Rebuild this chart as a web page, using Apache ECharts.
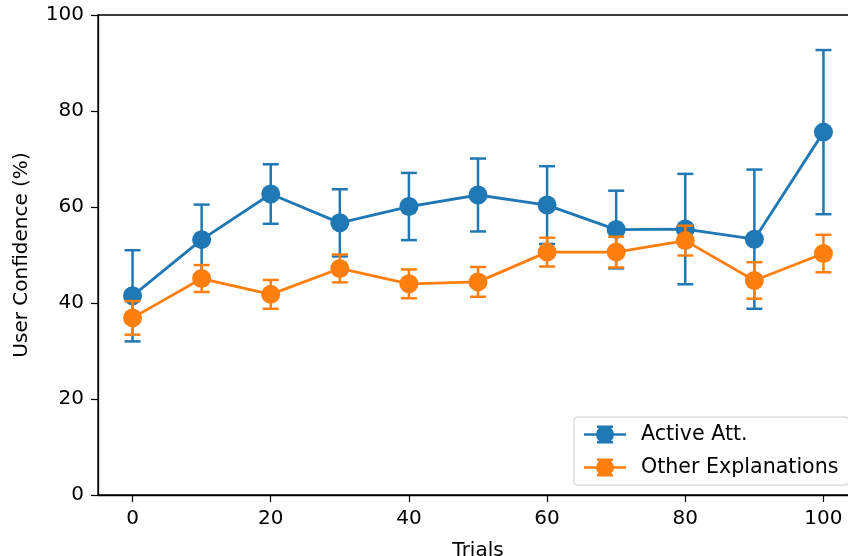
<!DOCTYPE html>
<html>
<head>
<meta charset="utf-8">
<script src="https://cdn.jsdelivr.net/npm/echarts@6/dist/echarts.min.js"></script>
<style>
  html, body { margin: 0; padding: 0; background: #fff; overflow: hidden; }
  /* the plot box runs past the right edge of the window, as in the reference */
  #main { width: 880px; height: 556px; }
</style>
</head>
<body>
<div id="main"></div>
<script>
  var trials = [0, 10, 20, 30, 40, 50, 60, 70, 80, 90, 100];
  var xTicks = [0, 20, 40, 60, 80, 100];

  var activeMean = [41.5, 53.2, 62.7, 56.7, 60.1, 62.5, 60.4, 55.3, 55.4, 53.3, 75.6];
  var activeErr  = [9.5, 7.3, 6.2, 7.0, 7.0, 7.6, 8.1, 8.1, 11.5, 14.5, 17.1];

  var otherMean = [36.9, 45.1, 41.8, 47.2, 44.0, 44.4, 50.6, 50.6, 53.0, 44.7, 50.3];
  var otherErr  = [3.5, 2.8, 3.0, 2.9, 3.0, 3.1, 3.0, 3.2, 3.1, 3.8, 3.9];

  var blue = '#1f77b4';
  var orange = '#ff7f0e';
  var font = 'DejaVu Sans';
  var fs = 20;

  function pairs(xs, ys) {
    return xs.map(function (x, i) { return [x, ys[i]]; });
  }
  function errData(xs, ys, es) {
    return xs.map(function (x, i) { return [x, ys[i] - es[i], ys[i] + es[i]]; });
  }

  // vertical error bar with caps
  function renderErr(color) {
    return function (params, api) {
      var lo = api.coord([api.value(0), api.value(1)]);
      var hi = api.coord([api.value(0), api.value(2)]);
      var cap = 8;
      var st = { stroke: color, lineWidth: 2.5 };
      return {
        type: 'group',
        children: [
          { type: 'line', shape: { x1: lo[0], y1: lo[1], x2: hi[0], y2: hi[1] }, style: st },
          { type: 'line', shape: { x1: lo[0] - cap, y1: lo[1], x2: lo[0] + cap, y2: lo[1] }, style: st },
          { type: 'line', shape: { x1: hi[0] - cap, y1: hi[1], x2: hi[0] + cap, y2: hi[1] }, style: st }
        ]
      };
    };
  }

  // legend handle: line + dot + error bar
  var handle = 'path://M0,7.7 L42,7.7 L42,10.3 L0,10.3 Z ' +
    'M12,9 A9,9 0 1,1 30,9 A9,9 0 1,1 12,9 Z ' +
    'M19.7,0 L22.3,0 L22.3,18 L19.7,18 Z ' +
    'M13,0 L29,0 L29,2.5 L13,2.5 Z M13,15.5 L29,15.5 L29,18 L13,18 Z';

  var myChart = echarts.init(document.getElementById('main'));
  var option = {
    animation: false,
    textStyle: { fontFamily: font },
    grid: {
      left: 98, top: 15, width: 760, height: 480,
      outerBoundsMode: 'none',
      show: true, borderColor: '#000', borderWidth: 1.3
    },
    legend: {
      orient: 'vertical',
      left: 574, top: 417,
      padding: [7, 10, 7, 10],
      itemGap: 12,
      itemWidth: 42, itemHeight: 18,
      borderColor: '#ccc', borderWidth: 1, borderRadius: 3,
      backgroundColor: 'rgba(255,255,255,0.8)',
      textStyle: { fontFamily: font, fontSize: 20.6, color: '#000', padding: [0, 0, 0, 10] },
      data: [
        { name: 'Active Att.', icon: handle, itemStyle: { color: blue } },
        { name: 'Other Explanations', icon: handle, itemStyle: { color: orange } }
      ]
    },
    xAxis: {
      type: 'value', min: -5, max: 105,
      name: 'Trials', nameLocation: 'middle', nameGap: 46,
      nameTextStyle: { fontFamily: font, fontSize: fs, color: '#000' },
      axisLine: { show: true, onZero: false, lineStyle: { color: '#000', width: 1.3 } },
      axisTick: { show: true, length: 7, lineStyle: { color: '#000', width: 1.2 }, customValues: xTicks },
      axisLabel: { fontFamily: font, fontSize: fs, color: '#000', margin: 14, customValues: xTicks },
      splitLine: { show: false }
    },
    yAxis: {
      type: 'value', min: 0, max: 100, interval: 20,
      name: 'User Confidence (%)', nameLocation: 'middle', nameGap: 66,
      nameTextStyle: { fontFamily: font, fontSize: fs, color: '#000' },
      axisLine: { show: true, onZero: false, lineStyle: { color: '#000', width: 1.3 } },
      axisTick: { show: true, length: 7, lineStyle: { color: '#000', width: 1.2 } },
      axisLabel: { fontFamily: font, fontSize: fs, color: '#000', margin: 14 },
      splitLine: { show: false }
    },
    series: [
      {
        name: 'Active Att.', type: 'custom', z: 2,
        renderItem: renderErr(blue),
        data: errData(trials, activeMean, activeErr),
        encode: { x: 0, y: [1, 2] }
      },
      {
        name: 'Active Att.', type: 'line', z: 3,
        data: pairs(trials, activeMean),
        symbol: 'circle', symbolSize: 19,
        itemStyle: { color: blue },
        lineStyle: { color: blue, width: 2.8 }
      },
      {
        name: 'Other Explanations', type: 'custom', z: 4,
        renderItem: renderErr(orange),
        data: errData(trials, otherMean, otherErr),
        encode: { x: 0, y: [1, 2] }
      },
      {
        name: 'Other Explanations', type: 'line', z: 5,
        data: pairs(trials, otherMean),
        symbol: 'circle', symbolSize: 19,
        itemStyle: { color: orange },
        lineStyle: { color: orange, width: 2.8 }
      }
    ]
  };
  myChart.setOption(option);
</script>
</body>
</html>
